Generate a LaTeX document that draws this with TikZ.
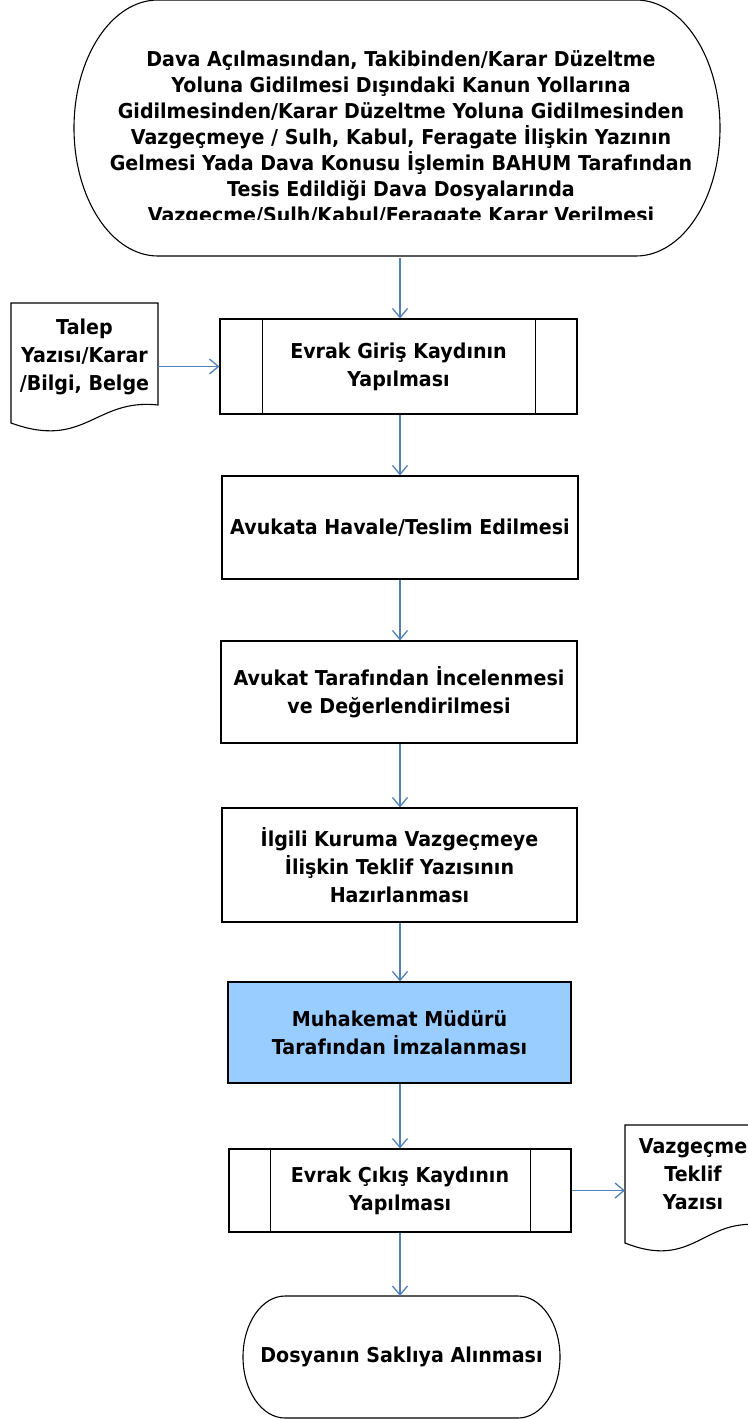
\documentclass[tikz,border=0pt]{standalone}
\usepackage{fontspec}
\newfontfamily\tfont{DejaVu Sans}[FakeStretch=0.93]
\usetikzlibrary{arrows.meta,calc}
\definecolor{arrowblue}{RGB}{79,129,189}
\definecolor{fillblue}{RGB}{153,204,255}
\newcommand\txtfont{\tfont\bfseries\fontsize{20.5}{28}\selectfont}
\tikzset{
  outline/.style={draw=black, line width=1.1pt},
  procbox/.style={outline, inner sep=0pt, align=center, font=\txtfont},
  shapeonly/.style={inner sep=0pt, outer sep=0pt},
  label/.style={inner sep=0pt, align=center, font=\txtfont},
  arr/.style={draw=arrowblue, line width=1.3pt, -{Straight Barb[length=9pt,width=15pt,line width=1.3pt]}},
}
\begin{document}
\begin{tikzpicture}[x=1pt,y=1pt]
\useasboundingbox (0,0) rectangle (747,-1419);

% top terminal
\node[shapeonly, minimum width=646pt, minimum height=256pt] (start) at (397,-128) {};
\draw[outline] ($(start.north west)+(84,0)$) -- ($(start.north east)+(-84,0)$)
  arc[start angle=90, end angle=-90, x radius=84pt, y radius=128pt]
  -- ($(start.south west)+(84,0)$)
  arc[start angle=270, end angle=90, x radius=84pt, y radius=128pt] -- cycle;
\begin{scope}
\clip (0,0) rectangle (747,-219);
\node[label, font=\tfont\bfseries\fontsize{20.5}{26}\selectfont] (starttext) at (401,-138.5)
 {Dava Açılmasından, Takibinden/Karar Düzeltme\\
  Yoluna Gidilmesi Dışındaki Kanun Yollarına\\
  Gidilmesinden/Karar Düzeltme Yoluna Gidilmesinden\\
  Vazgeçmeye / Sulh, Kabul, Feragate İlişkin Yazının\\
  Gelmesi Yada Dava Konusu İşlemin BAHUM Tarafından\\
  Tesis Edildiği Dava Dosyalarında\\
  Vazgeçme/Sulh/Kabul/Feragate Karar Verilmesi};
\end{scope}

% talep document
\node[shapeonly, minimum width=147pt, minimum height=120pt] (talep) at (84.5,-363) {};
\draw[outline, fill=white] (talep.north west) -- (talep.north east) -- ($(talep.south east)+(0,18)$)
  .. controls ($(talep.south east)+(-63,25)$) and ($(talep.south west)+(74,-27)$) .. (talep.south west) -- cycle;
\node[label] (talept) at ($(talep.center)+(0,6)$) {Talep\\Yazısı/Karar\\/Bilgi, Belge};

% process boxes
\node[procbox, minimum width=357pt, minimum height=95pt] (giris) at (398.5,-366.5) {Evrak Giriş Kaydının\\Yapılması};
\draw[outline] ($(giris.north west)+(43,0)$) -- ($(giris.south west)+(43,0)$);
\draw[outline] ($(giris.north east)+(-42,0)$) -- ($(giris.south east)+(-42,0)$);

\node[procbox, minimum width=356pt, minimum height=103pt] (havale) at (400,-527.5) {Avukata Havale/Teslim Edilmesi};
\node[procbox, minimum width=356pt, minimum height=102pt] (inceleme) at (399,-692) {Avukat Tarafından İncelenmesi\\ve Değerlendirilmesi};
\node[procbox, minimum width=355pt, minimum height=114pt] (ilgili) at (399.5,-865) {İlgili Kuruma Vazgeçmeye\\İlişkin Teklif Yazısının\\Hazırlanması};
\node[procbox, fill=fillblue, minimum width=343pt, minimum height=101pt] (muhakemat) at (399.5,-1032.5) {Muhakemat Müdürü\\Tarafından İmzalanması};

\node[procbox, minimum width=342pt, minimum height=83pt] (cikis) at (400,-1190.5) {Evrak Çıkış Kaydının\\Yapılması};
\draw[outline] ($(cikis.north west)+(42,0)$) -- ($(cikis.south west)+(42,0)$);
\draw[outline] ($(cikis.north east)+(-41,0)$) -- ($(cikis.south east)+(-41,0)$);

% vazgecme document
\node[shapeonly, minimum width=136pt, minimum height=118pt] (vazg) at (693,-1184) {};
\draw[outline, fill=white] (vazg.north west) -- (vazg.north east) -- ($(vazg.south east)+(0,18)$)
  .. controls ($(vazg.south east)+(-58,25)$) and ($(vazg.south west)+(68,-27)$) .. (vazg.south west) -- cycle;
\node[label] (vazgt) at ($(vazg.center)+(0,10)$) {Vazgeçme\\Teklif\\Yazısı};

% end terminal
\node[shapeonly, minimum width=317pt, minimum height=122pt] (end) at (401.5,-1357) {};
\draw[outline] ($(end.north west)+(42,0)$) -- ($(end.north east)+(-42,0)$)
  arc[start angle=90, end angle=-90, x radius=42pt, y radius=61pt]
  -- ($(end.south west)+(42,0)$)
  arc[start angle=270, end angle=90, x radius=42pt, y radius=61pt] -- cycle;
\node[label] (endt) at (end.center) {Dosyanın Saklıya Alınması};

% connectors
\draw[arr] ($(start.south)+(3,-2)$) -- ($(giris.north)+(1.5,0)$);
\draw[arr] (talep.east |- giris.west) -- (giris.west);
\draw[arr] ($(giris.south)+(1.5,0)$) -- (havale.north);
\draw[arr] (havale.south) -- ($(inceleme.north)+(1,0)$);
\draw[arr] ($(inceleme.south)+(1,0)$) -- ($(ilgili.north)+(0.5,0)$);
\draw[arr] ($(ilgili.south)+(0.5,0)$) -- ($(muhakemat.north)+(0.5,0)$);
\draw[arr] ($(muhakemat.south)+(0.5,0)$) -- (cikis.north);
\draw[arr] (cikis.east) -- (vazg.west |- cikis.east);
\draw[arr] (cikis.south) -- (cikis.south |- end.north);
\end{tikzpicture}
\end{document}
